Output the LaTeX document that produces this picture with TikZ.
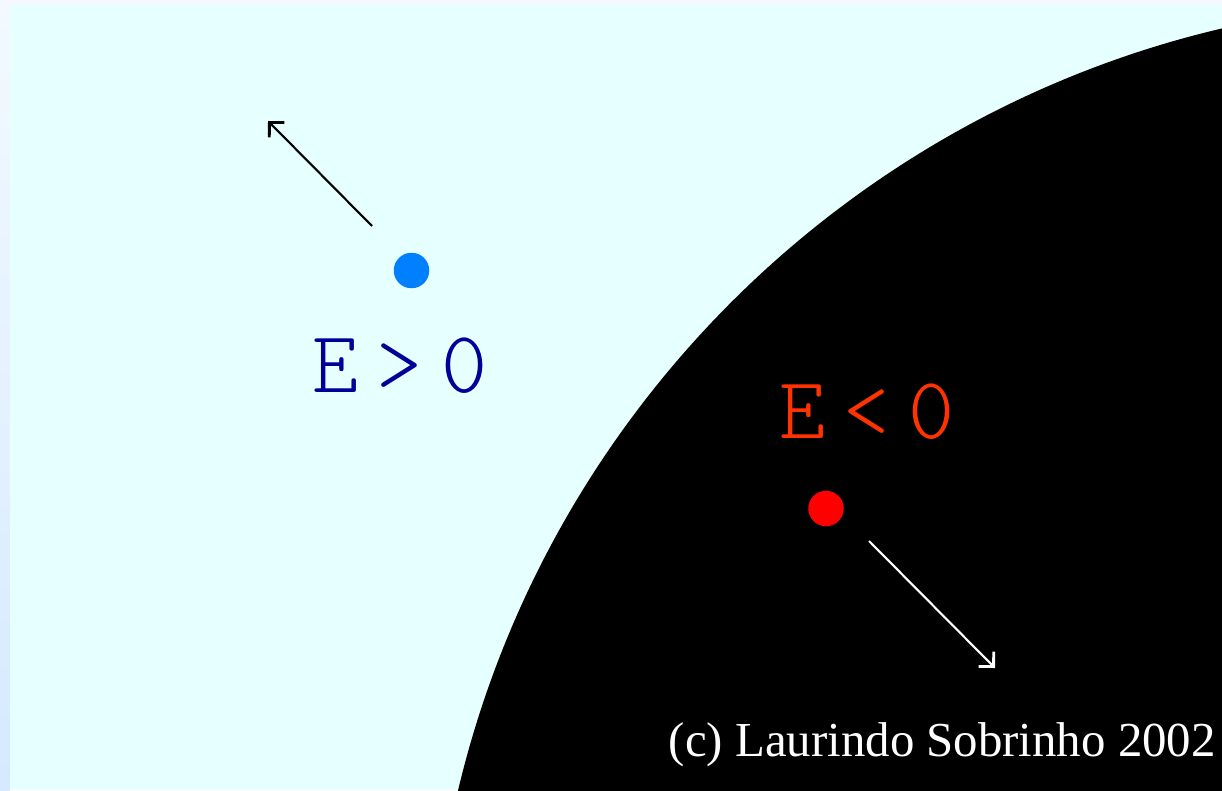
\documentclass[tikz,border=0pt]{standalone}
\usepackage{fontspec}
\usepackage{tikz}
\usetikzlibrary{arrows.meta}
\newfontfamily\pixfont[LetterSpace=21]{Latin Modern Mono Light}
\newfontfamily\signfont{Liberation Serif}
\definecolor{rim}{HTML}{F3F9FF}
\definecolor{rimlow}{HTML}{D6E9FF}
\definecolor{sky}{HTML}{E6FFFF}
\definecolor{darkblue}{HTML}{000099}
\definecolor{dotblue}{HTML}{0080FF}
\definecolor{textred}{HTML}{FF3300}
\definecolor{dotred}{HTML}{FF0000}

\begin{document}
\begin{tikzpicture}[x=0.02cm,y=-0.02cm,dot/.style={circle,inner sep=0pt,minimum size=0.71cm},energy/.style={font=\pixfont\fontsize{50}{52}\selectfont,inner sep=0pt},escape/.style={line width=1.2pt,-{Straight Barb[angle=90:0.3cm,line width=1.6pt]}}]
\useasboundingbox (0,0) rectangle (1222,790);
\fill[rim] (0,0) rectangle (1222,790);
\shade[top color=rim,bottom color=rimlow] (0,5) rectangle (10,790);
\fill[sky] (10,5) rectangle (1222,790);
\begin{scope}
\clip (10,5) rectangle (1222,790);
\fill[black] (1458,1029) circle[radius=20.56cm];
\end{scope}
\node[dot,fill=dotblue] (free) at (411.5,270.5) {};
\node[dot,fill=dotred] (bound) at (826,508.5) {};
\node[energy,text=darkblue] (positive) at (400,366) {E>0};
\node[energy,text=textred] (negative) at (867,412) {E<0};
\coordinate (freetail) at (372,226);
\coordinate (freehead) at (268,121);
\coordinate (boundtail) at (869,541);
\coordinate (boundhead) at (995,668);
\draw[escape,black] (freetail) -- (freehead);
\draw[escape,white] (boundtail) -- (boundhead);
\node[font=\signfont\fontsize{27.8}{30}\selectfont,text=white,inner sep=0pt,anchor=base east] (credit) at (1216,756) {(c) Laurindo Sobrinho 2002};
\end{tikzpicture}
\end{document}
